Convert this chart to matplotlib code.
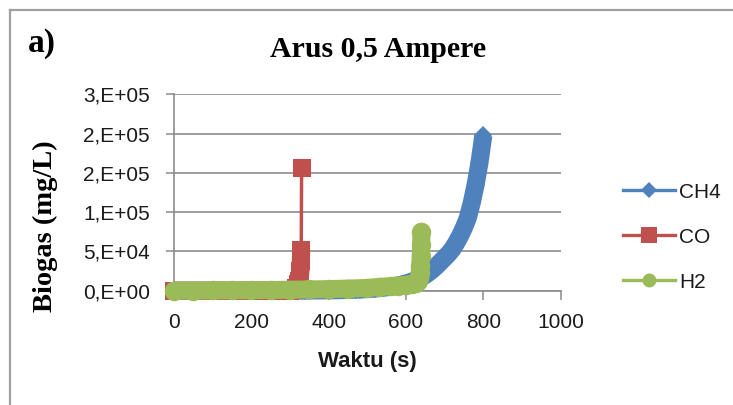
import matplotlib
matplotlib.use("Agg")
import matplotlib.pyplot as plt
from matplotlib.lines import Line2D

# ---------------- data ----------------
series_names = ["CH4", "CO", "H2"]

ch4_t = [0, 50, 100, 150, 200, 250,
         300, 310, 320, 330, 340, 350, 360, 370, 380, 390,
         400, 410, 420, 430, 440, 450, 460, 470, 480, 490,
         500, 510, 520, 530, 540, 550, 560, 570, 580, 590,
         600, 610, 620, 630, 640, 650, 660, 670, 680, 690,
         700, 710, 720, 730, 740, 750, 760, 770, 780, 790, 800]
ch4_v = [0, 10, 20, 30, 50, 70,
         100, 120, 140, 160, 190, 220, 260, 300, 350, 400,
         450, 500, 600, 700, 800, 950, 1100, 1300, 1500, 1700,
         2000, 2300, 2700, 3200, 3700, 4300, 5000, 5800, 6800, 7900,
         9200, 10700, 12500, 14500, 17000, 20000, 23500, 27500, 32000, 37000,
         42000, 47000, 53000, 61000, 70000, 80500, 93000, 112000, 135000, 163000, 198000]

co_t = [0, 50, 100, 150, 200, 250, 300, 310, 316, 321, 324, 327, 328, 329, 330]
co_v = [0, 0, 0, 0, 0, 0, 200, 1500, 4000, 8000, 12000, 25000, 38000, 52000, 156000]

h2_t = [0, 50, 100, 150, 200, 250, 300, 350, 400, 450, 500, 530, 560, 580,
        600, 615, 625, 630, 633, 635, 637, 638, 639, 640]
h2_v = [0, 100, 300, 500, 700, 900, 1200, 1600, 2000, 2700, 3500, 4800, 5800, 6600,
        7500, 8500, 10000, 12500, 16000, 22000, 32000, 44000, 58000, 75000]

x_ticks = [0, 200, 400, 600, 800, 1000]
x_tick_labels = ["0", "200", "400", "600", "800", "1000"]
y_ticks = [0, 50000, 100000, 150000, 200000, 250000]
y_tick_labels = ["0,E+00", "5,E+04", "1,E+05", "2,E+05", "2,E+05", "3,E+05"]

title = "Arus 0,5 Ampere"
panel = "a)"
xlabel = "Waktu (s)"
ylabel = "Biogas (mg/L)"

# ---------------- style ----------------
BLUE = "#4F81BD"
RED = "#C0504D"
GREEN = "#9BBB59"
GRID = "#8c8c8c"
TXT = "#1a1a1a"

W, H = 733, 405
fig = plt.figure(figsize=(W / 100, H / 100), dpi=100)
fig.patch.set_facecolor("white")

ax = fig.add_axes([174 / W, (H - 290.7) / H, 386.7 / W, 196.4 / H])
ax.set_xlim(0, 1000)
ax.set_ylim(0, 250000)

ax.set_xticks(x_ticks)
ax.set_xticklabels(x_tick_labels, family="Liberation Sans", fontsize=15, color=TXT)
ax.set_yticks(y_ticks)
ax.set_yticklabels(y_tick_labels, family="Liberation Sans", fontsize=15, color=TXT)
ax.tick_params(axis="x", length=6.5, width=1.1, color=GRID, pad=9.5)
ax.tick_params(axis="y", length=5.8, width=1.1, color=GRID, pad=11.5)

ax.grid(axis="y", color=GRID, lw=1.2)
ax.set_axisbelow(True)
for s in ["top", "right"]:
    ax.spines[s].set_visible(False)
for s in ["left", "bottom"]:
    ax.spines[s].set_color(GRID)
    ax.spines[s].set_linewidth(1.2)

BAND = 13

# CH4
ax.plot(ch4_t, ch4_v, color=BLUE, lw=BAND, solid_capstyle="butt",
        solid_joinstyle="round", zorder=3, clip_on=False)
ax.plot(ch4_t, ch4_v, color=BLUE, lw=0, marker="D", ms=9.2, mew=0,
        zorder=3, clip_on=False)

# CO
ax.plot(co_t[:-1], co_v[:-1], color=RED, lw=BAND, solid_capstyle="butt",
        solid_joinstyle="round", zorder=4, clip_on=False)
ax.plot(co_t, co_v, color=RED, lw=2.5, marker="s", ms=13.5, mew=0,
        zorder=4, clip_on=False)

# H2
ax.plot(h2_t, h2_v, color=GREEN, lw=BAND, solid_capstyle="round",
        solid_joinstyle="round", zorder=5, clip_on=False)
ax.plot(h2_t, h2_v, color=GREEN, lw=0, marker="o", ms=14, mew=0,
        zorder=5, clip_on=False)

# legend
handles = [
    Line2D([], [], color=BLUE, lw=2.4, marker="D", ms=8.5, mew=0),
    Line2D([], [], color=RED, lw=2.4, marker="s", ms=12, mew=0),
    Line2D([], [], color=GREEN, lw=2.4, marker="o", ms=10, mew=0),
]
leg = fig.legend(handles, series_names, loc="center left",
                 bbox_to_anchor=(622.7 / W, 1 - 237.2 / H),
                 bbox_transform=fig.transFigure, frameon=False,
                 borderpad=0, borderaxespad=0, handlelength=2.5,
                 handletextpad=0.2, labelspacing=1.25,
                 prop={"family": "Liberation Sans", "size": 15})
for t in leg.get_texts():
    t.set_color(TXT)

# texts
fig.text(378 / W, 1 - 57 / H, title, ha="center", va="baseline",
         fontsize=21.5, fontweight="bold", family="Liberation Serif", color="black")
fig.text(28 / W, 1 - 52 / H, panel, ha="left", va="baseline",
         fontsize=24, fontweight="bold", family="Liberation Serif", color="black")
fig.text(45.5 / W, 1 - 226.5 / H, ylabel, rotation=90, ha="center", va="center",
         fontsize=20.5, fontweight="bold", family="Liberation Serif", color="black")
fig.text(367 / W, 1 - 362 / H, xlabel, ha="center", va="center",
         fontsize=16, fontweight="bold", family="Liberation Sans", color=TXT)

# outer frame (top and left edges visible)
fig.add_artist(Line2D([10 / W, 1], [1 - 10 / H, 1 - 10 / H], transform=fig.transFigure,
                      color="#a0a0a0", lw=1.6))
fig.add_artist(Line2D([10 / W, 10 / W], [0, 1 - 10 / H], transform=fig.transFigure,
                      color="#a0a0a0", lw=1.6))

fig.savefig("out.png", dpi=100)
